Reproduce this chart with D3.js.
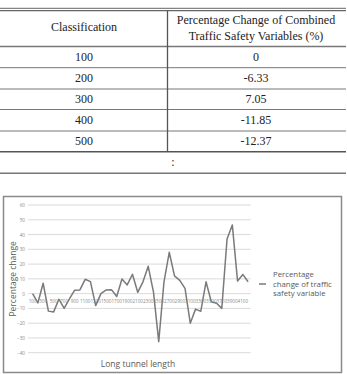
<!DOCTYPE html>
<html>
<head>
<meta charset="utf-8">
<script src="https://cdn.jsdelivr.net/npm/d3@7"></script>
<style>
  body { margin: 0; background: #fff; }
  svg { display: block; }
</style>
</head>
<body>
<div id="chart"></div>
<script>
// table data
const classes = ["100", "200", "300", "400", "500"];
const changes = ["0", "-6.33", "7.05", "-11.85", "-12.37"];

// chart data: tunnel length categories and percentage change
const lengths = [100, 200, 300, 400, 500, 600, 700, 800, 900, 1000,
  1100, 1200, 1300, 1400, 1500, 1600, 1700, 1800, 1900, 2000,
  2100, 2200, 2300, 2400, 2500, 2600, 2700, 2800, 2900, 3000,
  3100, 3200, 3300, 3400, 3500, 3600, 3700, 3800, 3900, 4000,
  4100, 4200];
const pct = [0, -6.33, 7.05, -11.85, -12.37, -3.8, -10, -3.5, 2.3, 2.5,
  9.7, 8.1, -8.1, 0, 2.5, 2.7, -2, 9.9, 5.9, 13.1,
  0.9, 8, 18.5, 1, -32.5, 8, 28, 12, 9, 3.5,
  -20, -10.5, -12, 8, -5.5, -6.5, -10, 37, 46.5, 8.5,
  13, 8];
const yTicks = [-40, -30, -20, -10, 0, 10, 20, 30, 40, 50, 60];

const W = 347, H = 374;
const svg = d3.select("#chart").append("svg")
    .attr("width", W)
    .attr("height", H);

// ---- table ----
const serif = "'Liberation Serif', 'Times New Roman', serif";
const tbl = svg.append("g");
const rowLines = [46.5, 67.7, 89, 109.5, 131, 151.7, 173.3];
const colX = 167.5;

tbl.append("line").attr("x1", 0).attr("x2", 346).attr("y1", 8.3).attr("y2", 8.3)
    .attr("stroke", "#666").attr("stroke-width", 1);
tbl.append("line").attr("x1", 0).attr("x2", 346).attr("y1", 10.7).attr("y2", 10.7)
    .attr("stroke", "#666").attr("stroke-width", 1.2);
rowLines.forEach((y, i) => {
  tbl.append("line").attr("x1", 0).attr("x2", 346).attr("y1", y).attr("y2", y)
      .attr("stroke", i === 5 ? "#555" : "#777")
      .attr("stroke-width", i === 0 || i === 5 || i === 6 ? 1.4 : 1);
});
tbl.append("line").attr("x1", colX).attr("x2", colX).attr("y1", 10.7).attr("y2", rowLines[5])
    .attr("stroke", "#555").attr("stroke-width", 1.3);

const txt = (x, y, s) => tbl.append("text")
    .attr("x", x).attr("y", y)
    .attr("text-anchor", "middle")
    .attr("font-family", serif)
    .attr("font-size", 12)
    .attr("fill", "#222")
    .text(s);

txt(84, 31, "Classification");
txt(256, 24, "Percentage Change of Combined");
txt(256, 40, "Traffic Safety Variables (%)");
classes.forEach((c, i) => {
  const yMid = (rowLines[i] + rowLines[i + 1]) / 2;
  txt(84, yMid + 4, c);
  txt(256, yMid + 4, changes[i]);
});
txt(173, (rowLines[5] + rowLines[6]) / 2 + 3, ":");

// ---- chart ----
const sans = "'Open Sans', 'Noto Sans', sans-serif";
svg.append("rect")
    .attr("x", 3.5).attr("y", 196.5)
    .attr("width", 338).attr("height", 176)
    .attr("fill", "#fff")
    .attr("stroke", "#8a8a8a")
    .attr("stroke-width", 1.5);

const plot = { left: 30, right: 250.7, top: 205, bottom: 352.7 };

const x = d3.scaleBand()
    .domain(lengths)
    .range([plot.left, plot.right]);

const y = d3.scaleLinear()
    .domain([-40, 60])
    .range([plot.bottom, plot.top]);

const g = svg.append("g");

// gridlines
g.selectAll(".grid")
  .data(yTicks)
  .join("line")
    .attr("x1", plot.left - 2).attr("x2", plot.right)
    .attr("y1", d => y(d)).attr("y2", d => y(d))
    .attr("stroke", "#d6d6d6")
    .attr("stroke-width", 0.9);

// y axis
const yAxis = g.append("g")
    .attr("transform", `translate(${plot.left - 2},0)`)
    .call(d3.axisLeft(y).tickValues(yTicks).tickSize(0).tickPadding(3));
yAxis.select(".domain").remove();
yAxis.selectAll("text")
    .attr("font-family", sans)
    .attr("font-size", 4.6)
    .attr("fill", "#888");

// x axis labels just under zero line
const xAxis = g.append("g")
    .attr("transform", `translate(0,${y(0)})`)
    .call(d3.axisBottom(x)
      .tickValues(lengths.filter((d, i) => i % 2 === 0))
      .tickSize(0).tickPadding(6));
xAxis.select(".domain").remove();
xAxis.selectAll("text")
    .attr("font-family", sans)
    .attr("font-size", 4.6)
    .attr("fill", "#888");

// line
g.append("path")
    .datum(pct)
    .attr("fill", "none")
    .attr("stroke", "#7a7a7a")
    .attr("stroke-width", 1.5)
    .attr("stroke-linejoin", "round")
    .attr("d", d3.line()
      .x((d, i) => x(lengths[i]) + x.bandwidth() / 2)
      .y(d => y(d)));

// axis titles
svg.append("text")
    .attr("transform", `translate(16,${(plot.top + plot.bottom) / 2}) rotate(-90)`)
    .attr("text-anchor", "middle")
    .attr("font-family", sans)
    .attr("font-size", 8.5)
    .attr("fill", "#595959")
    .text("Percentage change");

svg.append("text")
    .attr("x", 138).attr("y", 366.5)
    .attr("text-anchor", "middle")
    .attr("font-family", sans)
    .attr("font-size", 8.5)
    .attr("fill", "#595959")
    .text("Long tunnel length");

// legend
const leg = svg.append("g");
leg.append("line")
    .attr("x1", 259).attr("x2", 266)
    .attr("y1", 284).attr("y2", 284)
    .attr("stroke", "#7a7a7a").attr("stroke-width", 1.5);
["Percentage", "change of traffic", "safety variable"].forEach((s, i) => {
  leg.append("text")
      .attr("x", 273).attr("y", 277 + i * 9.7)
      .attr("font-family", sans)
      .attr("font-size", 7.8)
      .attr("fill", "#595959")
      .text(s);
});
</script>
</body>
</html>
